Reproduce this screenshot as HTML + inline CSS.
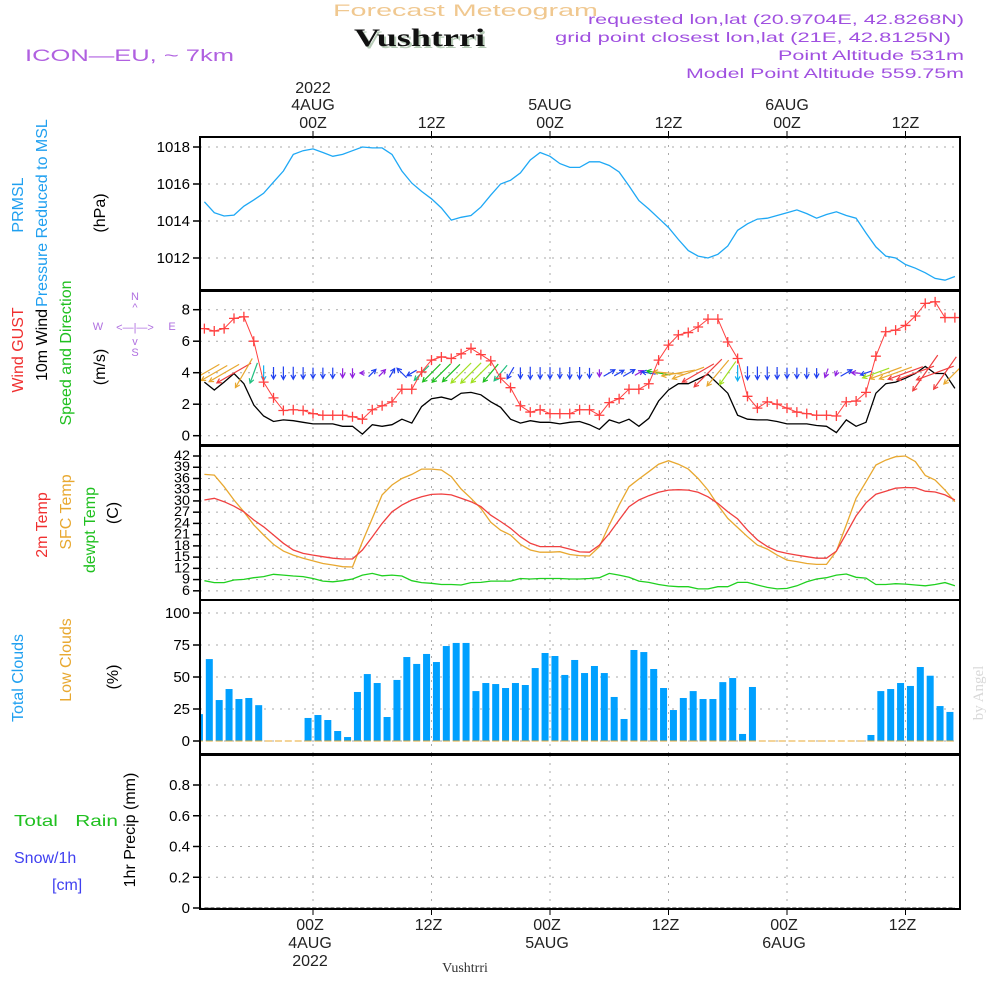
<!DOCTYPE html>
<html><head><meta charset="utf-8"><style>
html,body{margin:0;padding:0;background:#fff;}
svg{display:block;font-family:"Liberation Sans",sans-serif;}
</style></head><body>
<svg id="chart" width="1000" height="1000" viewBox="0 0 1000 1000">
<g>
<text x="333" y="16" font-size="17" fill="#f0c890" textLength="265" lengthAdjust="spacingAndGlyphs">Forecast Meteogram</text>
<text x="356" y="48" font-size="25" font-weight="bold" font-family="Liberation Serif,serif" fill="#b8ccb8" textLength="131" lengthAdjust="spacingAndGlyphs">Vushtrri</text>
<text x="354" y="46" font-size="25" font-weight="bold" font-family="Liberation Serif,serif" fill="#111" textLength="131" lengthAdjust="spacingAndGlyphs">Vushtrri</text>
<text x="25" y="61" font-size="17" fill="#b060e0" textLength="209" lengthAdjust="spacingAndGlyphs">ICON—EU, ~ 7km</text>
<text x="588" y="24" font-size="14" fill="#a050e0" textLength="376" lengthAdjust="spacingAndGlyphs">requested lon,lat (20.9704E, 42.8268N)</text>
<text x="555" y="42" font-size="14" fill="#a050e0" textLength="396" lengthAdjust="spacingAndGlyphs">grid point closest lon,lat (21E, 42.8125N)</text>
<text x="778" y="60" font-size="14" fill="#a050e0" textLength="186" lengthAdjust="spacingAndGlyphs">Point Altitude 531m</text>
<text x="686" y="78" font-size="14" fill="#a050e0" textLength="278" lengthAdjust="spacingAndGlyphs">Model Point Altitude 559.75m</text>
</g>
<g id="grid"></g>
<g id="marks"></g>
<g id="axes"></g>
<g font-size="16">
<text transform="translate(23,205) rotate(-90)" text-anchor="middle" fill="#20a0f0">PRMSL</text>
<text transform="translate(47,213) rotate(-90)" text-anchor="middle" fill="#20a0f0">Pressure Reduced to MSL</text>
<text transform="translate(105,213) rotate(-90)" text-anchor="middle" fill="#000">(hPa)</text>
<text transform="translate(23,350) rotate(-90)" text-anchor="middle" fill="#f03030">Wind GUST</text>
<text transform="translate(47,345) rotate(-90)" text-anchor="middle" fill="#000">10m Wind</text>
<text transform="translate(71,353) rotate(-90)" text-anchor="middle" fill="#20c020">Speed and Direction</text>
<text transform="translate(105,367) rotate(-90)" text-anchor="middle" fill="#000">(m/s)</text>
<g fill="#b070e0" font-size="11">
<text x="135" y="300" text-anchor="middle">N</text><text x="135" y="311" text-anchor="middle">^</text>
<text x="135" y="331" text-anchor="middle">&lt;—|—&gt;</text>
<text x="98" y="330" text-anchor="middle">W</text><text x="172" y="330" text-anchor="middle">E</text>
<text x="135" y="345" text-anchor="middle">v</text><text x="135" y="356" text-anchor="middle">S</text>
</g>
<text transform="translate(47,525) rotate(-90)" text-anchor="middle" fill="#f03030">2m Temp</text>
<text transform="translate(71,512) rotate(-90)" text-anchor="middle" fill="#e8a830">SFC Temp</text>
<text transform="translate(95,530) rotate(-90)" text-anchor="middle" fill="#20c020">dewpt Temp</text>
<text transform="translate(118,513) rotate(-90)" text-anchor="middle" fill="#000">(C)</text>
<text transform="translate(23,678) rotate(-90)" text-anchor="middle" fill="#20a0f0">Total Clouds</text>
<text transform="translate(71,660) rotate(-90)" text-anchor="middle" fill="#e8a830">Low Clouds</text>
<text transform="translate(118,677) rotate(-90)" text-anchor="middle" fill="#000">(%)</text>
<text x="14" y="826" fill="#20c020" textLength="104" lengthAdjust="spacingAndGlyphs" xml:space="preserve">Total   Rain</text>
<text x="14" y="863" fill="#4040f0">Snow/1h</text>
<text x="52" y="890" fill="#4040f0">[cm]</text>
<text transform="translate(135,830) rotate(-90)" text-anchor="middle" fill="#000">1hr Precip (mm)</text>
<text transform="translate(983,693) rotate(-90)" text-anchor="middle" fill="#d8d8d8" font-family="Liberation Serif,serif" font-size="15">by Angel</text>
<text x="465" y="972" text-anchor="middle" fill="#333" font-family="Liberation Serif,serif" font-size="14">Vushtrri</text>
</g>
</svg>
<script>
const hours=[];for(let h=-11;h<=65;h++)hours.push(h);
const pressure=[1015.04,1014.45,1014.27,1014.32,1014.8,1015.14,1015.5,1016.1,1016.7,1017.6,1017.8,1017.9,1017.7,1017.5,1017.6,1017.8,1018.0,1017.95,1017.95,1017.6,1016.7,1016.05,1015.6,1015.2,1014.7,1014.05,1014.2,1014.3,1014.75,1015.4,1016.0,1016.2,1016.6,1017.3,1017.7,1017.5,1017.1,1016.9,1016.9,1017.2,
1017.2,1017.0,1016.65,1015.9,1015.1,1014.65,1014.15,1013.65,1013.0,1012.4,1012.1,1012.0,1012.2,1012.65,1013.5,1013.85,1014.1,1014.15,1014.3,1014.45,1014.6,1014.4,1014.15,1014.35,1014.5,1014.3,1014.15,1013.35,1012.6,1012.1,1012.0,1011.65,1011.45,1011.2,1010.9,1010.8,1011.0];
const gust=[6.8,6.65,6.8,7.45,7.55,6.0,3.4,2.4,1.6,1.65,1.6,1.4,1.3,1.3,1.3,1.2,1.05,1.65,1.9,2.15,2.95,2.95,4.05,4.8,5.0,4.9,5.2,5.55,5.15,4.75,3.65,3.05,1.9,1.5,1.65,1.4,1.4,1.4,1.65,1.65,
1.3,2.1,2.35,2.95,2.95,3.3,4.8,5.75,6.4,6.55,6.9,7.4,7.4,5.95,4.9,2.5,1.75,2.15,2.0,1.75,1.5,1.4,1.3,1.3,1.25,2.15,2.2,2.75,5.05,6.6,6.7,7.0,7.6,8.4,8.5,7.5,7.5];
const wind10=[3.4,2.9,3.4,3.95,3.3,1.95,1.25,0.9,1.0,0.95,0.85,0.75,0.75,0.75,0.6,0.6,0.1,0.7,0.6,0.7,1.05,0.8,1.85,2.35,2.45,2.3,2.7,2.75,2.6,2.15,1.8,1.05,0.8,0.95,0.85,0.85,0.75,0.85,0.9,0.7,
0.4,1.0,0.8,1.05,0.6,1.1,2.2,2.9,3.3,3.3,3.6,3.9,3.3,2.7,1.3,1.05,1.0,1.0,0.9,0.75,0.75,0.75,0.65,0.6,0.2,1.0,0.6,0.85,2.7,3.3,3.4,3.65,3.95,4.4,3.95,3.95,3.0];
const windHeading=[240,240,240,240,210,200,180,180,180,180,180,180,180,180,180,180,270,45,45,30,315,240,225,225,225,225,225,225,225,220,220,210,180,180,180,180,180,180,180,180,180,60,60,60,60,280,280,275,260,250,240,225,220,215,180,180,180,180,180,180,180,180,180,200,200,60,275,250,250,250,250,250,250,215,250,215,225];
const t2m=[30.25,30.7,29.8,28.6,27.1,24.9,23.1,20.9,18.7,16.9,16.0,15.55,15.1,14.7,14.5,14.5,16.9,20.4,24.0,27.1,28.9,30.25,31.1,31.75,31.85,31.6,30.7,29.8,28.5,26.2,24.5,22.7,20.45,18.7,17.8,17.8,17.8,17.15,16.4,16.3,
18.2,21.3,24.9,28.45,30.25,31.4,32.3,32.9,33.0,32.9,32.3,31.1,29.35,27.1,25.2,22.2,19.6,17.8,16.6,16.0,15.55,15.1,14.7,14.7,16.6,21.3,26.0,29.5,31.8,32.6,33.4,33.6,33.5,32.6,32.4,31.6,30.25];
const tsfc=[37.1,36.9,33.8,30.25,27.1,23.6,20.9,18.4,16.6,15.55,14.7,14.0,13.3,12.9,12.45,12.35,19.1,25.35,31.6,34.25,36.0,37.1,38.5,38.5,38.25,36.5,33.2,30.7,28.0,24.3,22.2,20.9,18.4,16.9,16.3,16.3,16.45,15.7,15.4,15.3,
17.8,23.6,28.9,33.8,35.85,37.8,39.8,40.75,39.8,38.5,36.0,32.9,28.9,25.35,22.9,20.45,18.2,17.15,15.55,14.2,13.8,13.3,13.05,13.05,16.6,23.6,30.7,35.1,39.6,40.9,41.8,42.0,40.5,36.8,35.6,32.9,29.8];
const dewpt=[8.7,8.2,8.2,8.9,9.05,9.5,9.8,10.4,10.2,9.95,9.8,9.3,8.6,8.4,8.7,9.15,10.2,10.65,10.0,10.2,9.95,8.7,8.2,8.0,7.7,7.7,7.55,8.2,8.25,8.6,8.6,8.6,9.3,9.15,9.3,9.3,9.3,9.15,9.15,9.3,
9.5,10.65,10.2,9.6,8.6,8.25,7.7,7.3,7.1,7.1,6.5,6.5,7.1,7.1,8.25,8.25,7.55,6.9,6.5,6.65,7.35,8.4,9.15,9.5,10.2,10.5,9.6,9.4,7.7,7.7,7.9,7.8,7.55,7.35,7.7,8.2,7.35];
const clouds=[21,64,32,40.6,32.8,33.6,28,0,0,0,0,18,20.3,16.4,7.8,3.1,38.3,52.3,45.3,18.75,47.7,65.6,60.2,68,61.7,74.2,76.6,76.6,39,45.3,44.5,41.4,45.3,43.75,57,68.75,66.4,51.6,63.3,53.1,58.6,53.1,34.4,17.2,71.1,69.5,56.25,41.4,24.2,33.6,39,32.8,32.8,46,49.2,5.5,42.2,0,0,0,0,0,0,0,0,0,0,0,4.7,39,40.6,45.3,43,57.8,51,27.3,22.7];
const lowClouds=clouds.map(()=>0);
const precip=hours.map(()=>0);
const timeTicks=[0,12,24,36,48,60];
const timeLabels=["00Z","12Z","00Z","12Z","00Z","12Z"];
const dateLabels=["4AUG","","5AUG","","6AUG",""];
const pTicks=[1012,1014,1016,1018];
const wTicks=[0,2,4,6,8];
const tTicks=[6,9,12,15,18,21,24,27,30,33,36,39,42];
const cTicks=[0,25,50,75,100];
const rTicks=[0,0.2,0.4,0.6,0.8];

const NS="http://www.w3.org/2000/svg";
const L=200,R=960;
const xs=h=>313+h*9.875;
const yP=p=>147+(1018-p)*18.5;
const yW=v=>435.7-v*15.75;
const yT=t=>456+(42-t)*3.745;
const yC=c=>741-c*1.28;
const yR=r=>908-r*153.75;
const panels=[{top:137,bot:290,f:yP,ticks:pTicks,name:'pressure'},{top:291,bot:445,f:yW,ticks:wTicks,name:'wind'},{top:446,bot:600,f:yT,ticks:tTicks,name:'temperature'},{top:600,bot:754,f:yC,ticks:cTicks,name:'clouds'},{top:755,bot:909,f:yR,ticks:rTicks,name:'precip'}];
function mk(tag,attrs,parent){const e=document.createElementNS(NS,tag);for(const k in attrs)e.setAttribute(k,attrs[k]);parent.appendChild(e);return e;}
const grid=document.getElementById('grid'),marks=document.getElementById('marks'),axes=document.getElementById('axes');
const defs=mk('defs',{},marks);
const cp=mk('clipPath',{id:'clip'},defs);mk('rect',{x:L,y:130,width:R-L,height:790},cp);
panels.forEach(p=>{
  p.ticks.forEach(t=>{const y=p.f(t);
    const g=mk('line',{x1:L,x2:R,y1:y,y2:y,stroke:'#aaa','stroke-dasharray':'2,6'},grid);
    
    mk('line',{x1:L-7,x2:L,y1:y,y2:y,stroke:'#000','stroke-width':1.5},axes);
    const lab=mk('text',{x:L-10,y:y+5,'text-anchor':'end','font-size':p.name==='temperature'?14:15,fill:'#000'},axes);
    if(p.name==='temperature')lab.setAttribute('textLength',String(t).length*8),lab.setAttribute('lengthAdjust','spacingAndGlyphs'),lab.setAttribute('y',y+4);
    lab.textContent=p.name==='precip'?(t===0?'0':t.toFixed(1)):String(t);
    
  });
  timeTicks.forEach(h=>{const v=mk('line',{x1:xs(h),x2:xs(h),y1:p.top,y2:p.bot,stroke:'#aaa','stroke-dasharray':'2,6'},grid);
    });
  const fr=mk('rect',{x:L,y:p.top,width:R-L,height:p.bot-p.top,fill:'none',stroke:'#000','stroke-width':2},axes);
  
});
timeTicks.forEach((h,i)=>{const x=xs(h);
  mk('line',{x1:x,x2:x,y1:131,y2:137,stroke:'#000'},axes);
  mk('line',{x1:x,x2:x,y1:909,y2:915,stroke:'#000'},axes);
  const t=mk('text',{x:x,y:128,'text-anchor':'middle','font-size':16,fill:'#222'},axes);t.textContent=timeLabels[i];
  
  const b=mk('text',{x:x-3,y:930,'text-anchor':'middle','font-size':16,fill:'#222'},axes);b.textContent=timeLabels[i];
  
  if(dateLabels[i]){const d=mk('text',{x:x,y:110,'text-anchor':'middle','font-size':16,fill:'#222'},axes);d.textContent=dateLabels[i];
    
    const d2=mk('text',{x:x-3,y:948,'text-anchor':'middle','font-size':16,fill:'#222'},axes);d2.textContent=dateLabels[i];
    }
});
const y1=mk('text',{x:xs(0),y:93,'text-anchor':'middle','font-size':16,fill:'#222'},axes);y1.textContent='2022';

const y2=mk('text',{x:xs(0)-3,y:966,'text-anchor':'middle','font-size':16,fill:'#222'},axes);y2.textContent='2022';


const cg=mk('g',{'clip-path':'url(#clip)'},marks);
function line(arr,f,color,name,w){const d=arr.map((v,i)=>(i?'L':'M')+xs(hours[i]).toFixed(1)+','+f(v).toFixed(1)).join('');
  const e=mk('path',{d:d,fill:'none',stroke:color,'stroke-width':w||1.3},cg);
  return e;}
line(pressure,yP,'#1ea8f5','pressure-line');
clouds.forEach((c,i)=>{const x=xs(hours[i]-0.5);
  const r=mk('rect',{x:x-3.5,y:yC(c),width:7,height:Math.max(0,yC(0)-yC(c)),fill:'#00a0ff'},cg);
  
  const lc=mk('line',{x1:x-3.5,x2:x+3.5,y1:yC(lowClouds[i]),y2:yC(lowClouds[i]),stroke:'#e8a830','stroke-width':1},cg);
  
});
line(precip,yR,'#222','precip-line',1).setAttribute('stroke-dasharray','4,2');
line(tsfc,yT,'#e8a830','sfc-temp-line');
line(t2m,yT,'#f04040','t2m-line');
line(dewpt,yT,'#20d020','dewpt-line');
line(wind10,yW,'#000','wind10m-line');
function wcol(s){if(s<0.65)return'#9020e0';if(s<1.15)return'#2040f0';if(s<1.5)return'#10b0f0';if(s<2.1)return'#20c080';if(s<2.5)return'#20c020';if(s<2.9)return'#a0e020';if(s<3.6)return'#e8a830';return'#f04040';}
wind10.forEach((s,i)=>{const a=windHeading[i]*Math.PI/180,len=4+9*s;
  const dx=len*Math.sin(a),dy=-len*Math.cos(a);
  const cx=xs(hours[i]),cy=373;
  const x=cx-dx/2,y=cy-dy/2,x2=cx+dx/2,y2=cy+dy/2;
  const hx1=x2-5*Math.sin(a-0.5),hy1=y2+5*Math.cos(a-0.5),hx2=x2-5*Math.sin(a+0.5),hy2=y2+5*Math.cos(a+0.5);
  const e=mk('path',{d:`M${x},${y}L${x2},${y2}M${hx1},${hy1}L${x2},${y2}L${hx2},${hy2}`,fill:'none',stroke:wcol(s),'stroke-width':1.2},cg);
  
});
line(gust,yW,'#ff4040','gust-line',1);
gust.forEach((g,i)=>{const x=xs(hours[i]),y=yW(g);
  const e=mk('path',{d:`M${x-5},${y}h10M${x},${y-5}v10`,stroke:'#ff4040','stroke-width':1.3},cg);
  
});
</script>
</body></html>
